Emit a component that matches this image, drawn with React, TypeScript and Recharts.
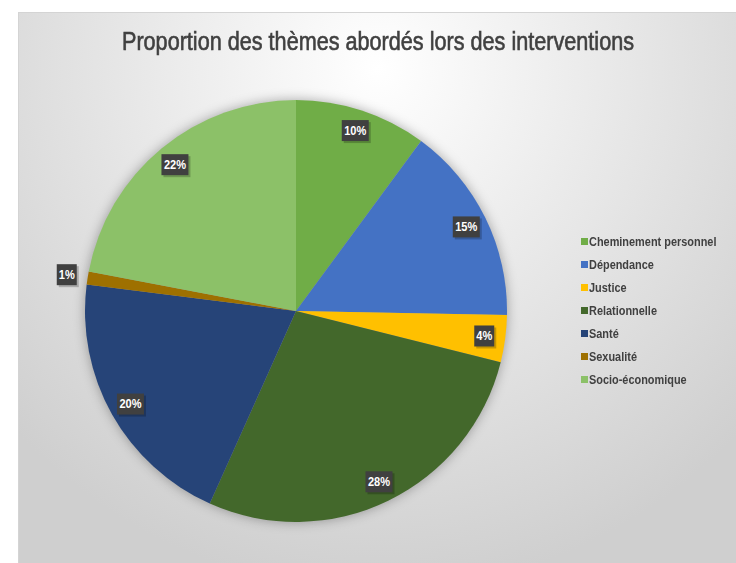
import React from "react";
import { PieChart, Pie, Cell, Legend } from "recharts";

const categories = [
  "Cheminement personnel",
  "Dépendance",
  "Justice",
  "Relationnelle",
  "Santé",
  "Sexualité",
  "Socio-économique",
];
const values = [10.1, 15.2, 3.6, 27.8, 20.3, 1.0, 22.0];
const colors = ["#70ad47", "#4472c4", "#ffc000", "#43682b", "#264478", "#9e7000", "#8cc168"];

const data = categories.map((name, i) => ({ name, value: values[i] }));
const total = values.reduce((a, b) => a + b, 0);

const RAD = Math.PI / 180;
const FONT = "'Liberation Sans', Arial, sans-serif";

const renderLabel = (props: any) => {
  const { cx, cy, midAngle, outerRadius, value } = props;
  const pct = Math.round((value / total) * 100);
  const r = pct < 2 ? outerRadius * 1.1 : outerRadius * 0.9;
  const x = cx + r * Math.cos(-midAngle * RAD);
  const y = cy + r * Math.sin(-midAngle * RAD);
  const text = `${pct}%`;
  const w = text.length * 7 + 6;
  const h = 21;
  return (
    <g>
      <rect x={x - w / 2 + 2} y={y - h / 2 + 2} width={w} height={h} fill="rgba(0,0,0,0.22)" />
      <rect x={x - w / 2} y={y - h / 2} width={w} height={h} fill="#404040" />
      <text
        transform={`translate(${x},${y}) scale(0.85,1)`}
        x={0}
        y={0}
        fill="#ffffff"
        textAnchor="middle"
        dominantBaseline="central"
        style={{ fontFamily: FONT, fontWeight: 700, fontSize: 13 }}
      >
        {text}
      </text>
    </g>
  );
};

const renderLegend = (props: any) => {
  const { payload } = props;
  return (
    <div>
      {payload.map((entry: any, i: number) => (
        <div key={i} style={{ display: "flex", alignItems: "center", height: 23 }}>
          <span style={{ display: "inline-block", width: 7, height: 7, background: entry.color, marginRight: 1, flex: "none" }} />
          <span
            style={{
              display: "inline-block",
              fontFamily: FONT,
              fontWeight: 700,
              fontSize: 13,
              color: "#404040",
              whiteSpace: "nowrap",
              transform: "scaleX(0.84)",
              transformOrigin: "left center",
            }}
          >
            {entry.value}
          </span>
        </div>
      ))}
    </div>
  );
};

export default function App() {
  return (
    <div
      style={{
        position: "absolute",
        left: 18,
        top: 12,
        width: 718,
        height: 551,
        borderTop: "1px solid #d4d4d4",
        borderLeft: "1px solid #d4d4d4",
        background: "radial-gradient(ellipse 70% 95% at 50% 10%, #ffffff 0%, #f3f3f3 25%, #cfcfcf 100%)",
        overflow: "hidden",
      }}
    >
      <style>{`.recharts-pie { filter: drop-shadow(0px 0px 6px rgba(0,0,0,0.32)); }`}</style>
      <div
        style={{
          position: "absolute",
          left: 0,
          top: 14,
          width: 718,
          textAlign: "center",
          fontFamily: FONT,
          fontSize: 25,
          color: "#404040",
          lineHeight: "28px",
          transform: "scaleX(0.865)",
          transformOrigin: "359px 0",
          whiteSpace: "nowrap",
          WebkitTextStroke: "0.6px #404040",
        }}
      >
        Proportion des thèmes abordés lors des interventions
      </div>
      <PieChart width={718} height={551}>
        <Pie
          data={data}
          dataKey="value"
          nameKey="name"
          cx={272}
          cy={293}
          outerRadius={211}
          startAngle={90}
          endAngle={-270}
          stroke="none"
          label={renderLabel}
          labelLine={false}
          isAnimationActive={false}
        >
          {data.map((d, i) => (
            <Cell key={d.name} fill={colors[i]} />
          ))}
        </Pie>
        <Legend
          layout="vertical"
          content={renderLegend}
          wrapperStyle={{ position: "absolute", left: 562, top: 217, width: 160 }}
        />
      </PieChart>
    </div>
  );
}
